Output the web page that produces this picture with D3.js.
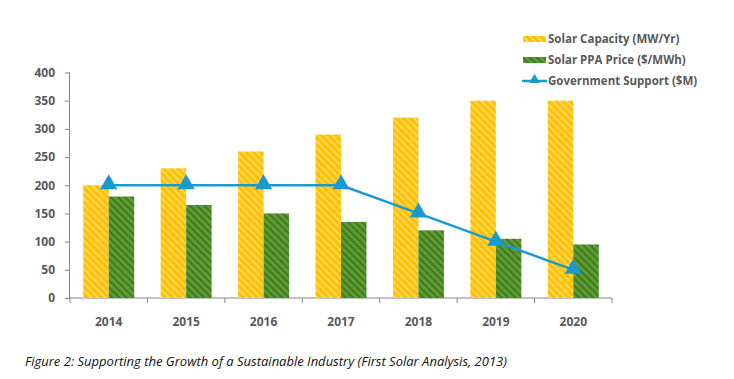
<!DOCTYPE html>
<html><head><meta charset="utf-8">
<script src="https://cdn.jsdelivr.net/npm/d3@7"></script>
<style>body{margin:0;background:#fff}svg{display:block}</style>
</head><body><div id="c"></div>
<script>
const years = ["2014","2015","2016","2017","2018","2019","2020"];
const solarCapacity = [200,230,260,290,320,350,350];
const ppaPrice = [180,165,150,135,120,105,95];
const govSupport = [200,200,200,200,150,100,50];
const yTicks = [0,50,100,150,200,250,300,350,400];
const seriesNames = ["Solar Capacity (MW/Yr)","Solar PPA Price ($/MWh)","Government Support ($M)"];
const caption = "Figure 2: Supporting the Growth of a Sustainable Industry (First Solar Analysis, 2013)";

const W=734,H=379;
const svg=d3.select("#c").append("svg").attr("width",W).attr("height",H);
const defs=svg.append("defs");
function stripe(id,bg,fg){
  const p=defs.append("pattern").attr("id",id).attr("patternUnits","userSpaceOnUse")
    .attr("width",5).attr("height",5).attr("patternTransform","rotate(45)");
  p.append("rect").attr("width",5).attr("height",5).attr("fill",bg);
  p.append("rect").attr("width",5).attr("height",2).attr("fill",fg);
}
stripe("py","#FFC000","#FFD65C");
stripe("pg","#5E9C32","#3F7A22");

const x=d3.scaleBand().domain(years).range([70,612]);
const y=d3.scaleLinear().domain([0,400]).range([298,72.5]);
const axisCol="#868686", txtCol="#595959";
const font="'Open Sans', 'Liberation Sans', sans-serif";

// y axis
const ya=svg.append("g").attr("transform","translate(70,0)")
  .call(d3.axisLeft(y).tickValues(yTicks).tickSize(5).tickPadding(10));
ya.select(".domain").attr("stroke",axisCol).attr("d","M-0.5,"+y(400)+"V"+y(0));
ya.selectAll("line").attr("stroke",axisCol);
ya.selectAll("text").attr("fill",txtCol).style("font","bold 12px "+font);

// x axis
const xa=svg.append("g").attr("transform","translate(0,298)");
xa.append("line").attr("x1",70).attr("x2",612).attr("stroke",axisCol);
const bounds=years.map(d=>x(d)).concat([x.range()[1]]);
xa.selectAll(".tk").data(bounds).join("line").attr("x1",d=>d).attr("x2",d=>d)
  .attr("y1",0).attr("y2",5).attr("stroke",axisCol);
xa.selectAll(".lb").data(years).join("text").attr("x",d=>x(d)+x.bandwidth()/2).attr("y",28)
  .attr("text-anchor","middle").attr("fill",txtCol).style("font","bold 12px "+font).text(d=>d);

// bars
const bw=25.5;
svg.selectAll(".b1").data(years).join("rect")
  .attr("x",d=>x(d)+x.bandwidth()/2-bw).attr("width",bw)
  .attr("y",(d,i)=>y(solarCapacity[i])).attr("height",(d,i)=>y(0)-y(solarCapacity[i]))
  .attr("fill","url(#py)");
svg.selectAll(".b2").data(years).join("rect")
  .attr("x",d=>x(d)+x.bandwidth()/2).attr("width",bw)
  .attr("y",(d,i)=>y(ppaPrice[i])).attr("height",(d,i)=>y(0)-y(ppaPrice[i]))
  .attr("fill","url(#pg)");

// line
const lc="#1B9AD0";
const line=d3.line().x((d,i)=>x(years[i])+x.bandwidth()/2).y(d=>y(d));
svg.append("path").attr("d",line(govSupport)).attr("fill","none").attr("stroke",lc).attr("stroke-width",2.5);
const tri=d3.symbol().type(d3.symbolTriangle).size(130);
svg.selectAll(".m").data(govSupport).join("path")
  .attr("transform",(d,i)=>`translate(${x(years[i])+x.bandwidth()/2},${y(d)-1})`)
  .attr("d",tri).attr("fill",lc);

// legend
const lg=svg.append("g");
const ly=[39,60,81];
lg.append("rect").attr("x",523).attr("y",ly[0]-3).attr("width",23).attr("height",6).attr("fill","url(#py)");
lg.append("rect").attr("x",523).attr("y",ly[1]-3).attr("width",23).attr("height",6).attr("fill","url(#pg)");
lg.append("line").attr("x1",522).attr("x2",547).attr("y1",ly[2]).attr("y2",ly[2]).attr("stroke",lc).attr("stroke-width",2.5);
lg.append("path").attr("transform",`translate(534.5,${ly[2]-1})`).attr("d",d3.symbol().type(d3.symbolTriangle).size(50)).attr("fill",lc);
lg.selectAll("text").data(seriesNames).join("text").attr("x",548).attr("y",(d,i)=>ly[i]+4)
  .attr("fill",txtCol).style("font","bold 11.5px "+font).text(d=>d);

// caption
svg.append("text").attr("x",25).attr("y",366).attr("fill","#111")
  .style("font","italic 13px "+font).text(caption);
</script></body></html>
